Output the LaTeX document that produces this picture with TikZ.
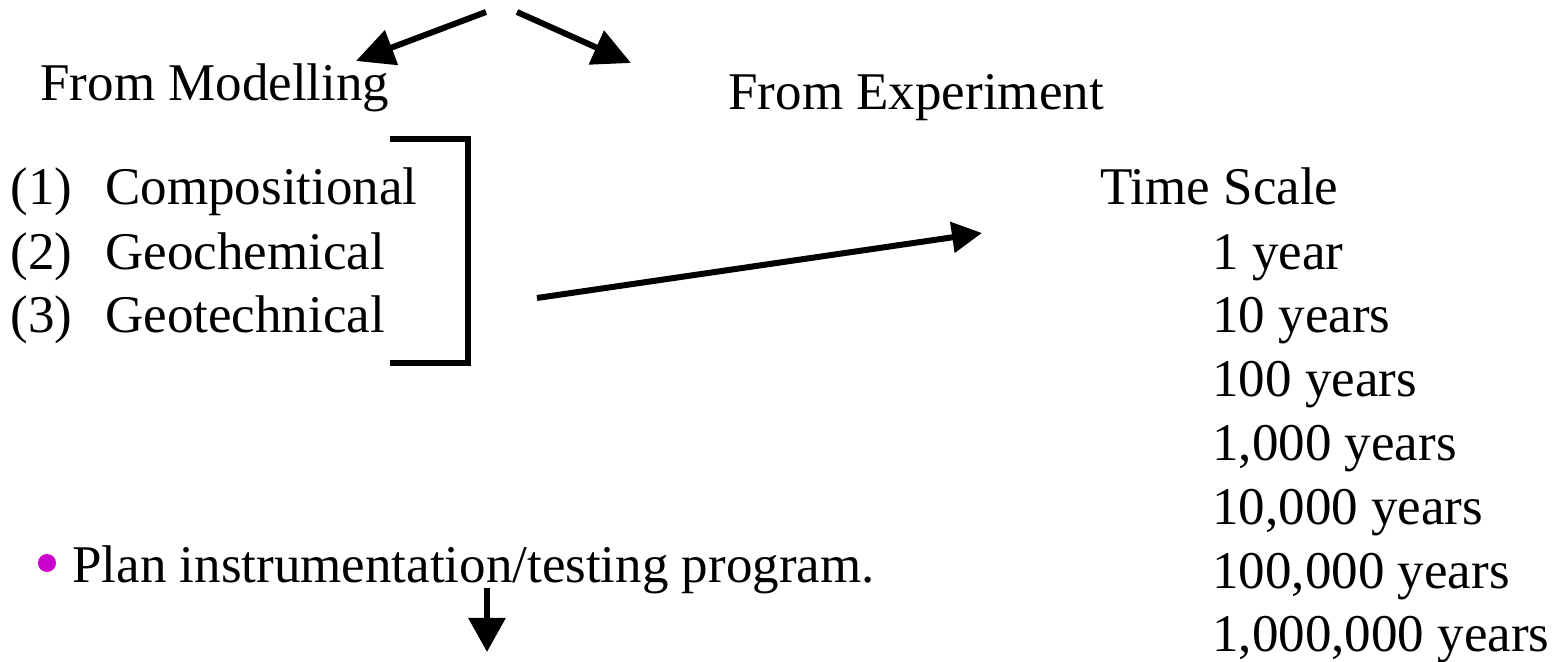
\documentclass[tikz,border=0pt]{standalone}
\usepackage{fontspec}
\setmainfont{Liberation Serif}
\usetikzlibrary{arrows.meta}
\definecolor{bulletmag}{RGB}{204,0,204}

\begin{document}
\begin{tikzpicture}[x=0.5pt, y=-0.5pt, line join=miter,
    txt/.style={anchor=base west, inner sep=0pt, font=\fontsize{26.5}{32}\selectfont},
    fat/.style={line width=3pt},
    bigtip/.style={-{Triangle[length=19pt, width=18pt]}}]
    \useasboundingbox (0,0) rectangle (1565,662);

    % 坐标 (按像素位置)
    \coordinate (sL) at (486,12);
    \coordinate (sR) at (517,12);
    \coordinate (tL) at (356,61);
    \coordinate (tR) at (631,63);
    \coordinate (bTop) at (390,139);
    \coordinate (bBot) at (390,363);
    \coordinate (mS) at (537,298);
    \coordinate (mE) at (982,233);
    \coordinate (dS) at (487,588);
    \coordinate (dE) at (487,652);

    % 标题
    \node[txt] (model) at (40,101) {From Modelling};
    \node[txt] (exper) at (728,110) {From Experiment};

    % 分类列表
    \node[txt] (n1) at (10,205) {(1)};
    \node[txt] (n2) at (10,270) {(2)};
    \node[txt] (n3) at (10,333) {(3)};
    \node[txt] (comp) at (105,205) {Compositional};
    \node[txt] (geoc) at (105,270) {Geochemical};
    \node[txt] (geot) at (105,333) {Geotechnical};

    % 时间尺度
    \node[txt] (tscale) at (1100,205) {Time Scale};
    \foreach \t/\y [count=\i] in {1 year/270, 10 years/333, 100 years/397,
        {1,000 years}/461, {10,000 years}/525, {100,000 years}/589,
        {1,000,000 years}/652}
        \node[txt] (yr\i) at (1212,\y) {\t};

    % 要点
    \fill[bulletmag] (47,563) circle (4.5pt);
    \node[txt] (plan) at (72,583) {Plan instrumentation/testing program.};

    % 箭头与括号
    \draw[fat, bigtip] (sL) -- (tL);
    \draw[fat, bigtip] (sR) -- (tR);
    \draw[fat] (bTop) -- (468,139) -- (468,363) -- (bBot);
    \draw[fat, -{Triangle[length=15pt, width=15pt]}] (mS) -- (mE);
    \draw[fat, -{Triangle[length=17pt, width=18pt]}] (dS) -- (dE);
\end{tikzpicture}
\end{document}
